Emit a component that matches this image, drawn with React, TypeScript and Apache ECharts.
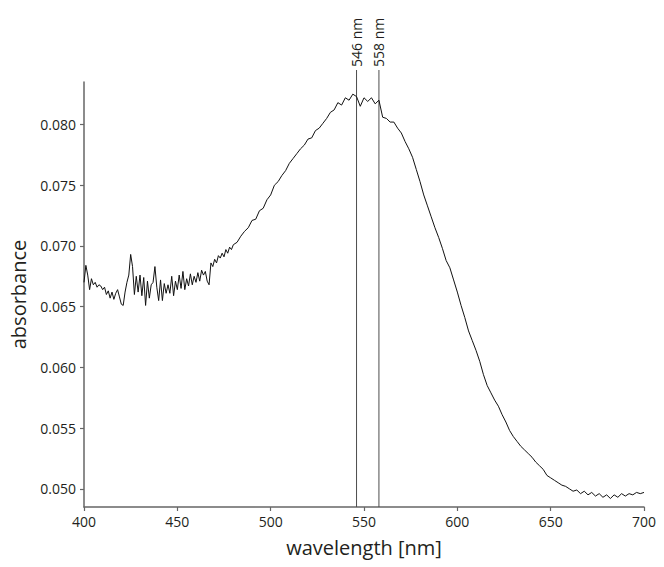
import React, { useEffect, useRef } from "react";
import * as echarts from "echarts";

// Noisy part: 400..480 nm, 1 nm steps
const NOISY_START = 400;
const noisyValues = [
  0.0670, 0.0684, 0.0676, 0.0664, 0.0673, 0.0668, 0.0670, 0.0666, 0.0668, 0.0667,
  0.0664, 0.0666, 0.0660, 0.0663, 0.0657, 0.0662, 0.0656, 0.0661, 0.0664, 0.0658,
  0.0652, 0.0651, 0.0662, 0.0670, 0.0676, 0.0693, 0.0683, 0.0660, 0.0675, 0.0662,
  0.0676, 0.0659, 0.0674, 0.0651, 0.0671, 0.0657, 0.0668, 0.0670, 0.0683, 0.0666,
  0.0655, 0.0672, 0.0655, 0.0669, 0.0661, 0.0668, 0.0661, 0.0675, 0.0659, 0.0671,
  0.0664, 0.0676, 0.0665, 0.0679, 0.0664, 0.0673, 0.0667, 0.0677, 0.0668, 0.0675,
  0.0670, 0.0678, 0.0671, 0.0680, 0.0676, 0.0679, 0.0671, 0.0668, 0.0686, 0.0683,
  0.0689, 0.0686, 0.0692, 0.0690, 0.0694, 0.0691, 0.0697, 0.0694, 0.0699, 0.0697,
  0.0701,
];

// Smooth part: 482..700 nm, 2 nm steps
const SMOOTH_START = 482;
const smoothValues = [
  0.0703, 0.0708, 0.0712, 0.0715, 0.0721, 0.0722, 0.0729, 0.0731, 0.0738, 0.0742,
  0.0750, 0.0753, 0.0758, 0.0762, 0.0768, 0.0772, 0.0776, 0.0780, 0.0783, 0.0788,
  0.0789, 0.0795, 0.0797, 0.0801, 0.0805, 0.0810, 0.0812, 0.0818, 0.0816, 0.0822,
  0.0820, 0.0825, 0.0823, 0.0815, 0.0822, 0.0819, 0.0822, 0.0817, 0.0820, 0.0806,
  0.0805, 0.0802, 0.0802, 0.0797, 0.0793, 0.0786, 0.0780, 0.0773, 0.0763, 0.0753,
  0.0742, 0.0733, 0.0724, 0.0715, 0.0707, 0.0698, 0.0688, 0.0682, 0.0672, 0.0662,
  0.0651, 0.0641, 0.0630, 0.0622, 0.0614, 0.0605, 0.0594, 0.0585, 0.0579, 0.0573,
  0.0568, 0.0561, 0.0555, 0.0548, 0.0543, 0.0539, 0.0535, 0.0532, 0.0529, 0.0526,
  0.0522, 0.0519, 0.0516, 0.0511, 0.0509, 0.0507, 0.0505, 0.0503, 0.0502, 0.0500,
  0.0498, 0.0499, 0.0496, 0.0498, 0.0495, 0.0497, 0.0494, 0.0496, 0.0493, 0.0495,
  0.0492, 0.0495, 0.0493, 0.0496, 0.0494, 0.0496, 0.0495, 0.0497, 0.0496, 0.0497,
];

const markerWavelengths = [546, 558];
const yTicks = [0.05, 0.055, 0.06, 0.065, 0.07, 0.075, 0.08];
const X_MIN = 400;
const X_MAX = 700;
const Y_MIN = 0.0485;
const Y_MAX = 0.0835;

const FONT = "'Open Sans', 'Noto Sans', sans-serif";
const TEXT = "#231f20";

export default function App() {
  const ref = useRef<HTMLDivElement>(null);

  useEffect(() => {
    document.body.style.margin = "0";
    if (!ref.current) return;
    const chart = echarts.init(ref.current, undefined, { renderer: "svg" });

    const data: number[][] = [];
    noisyValues.forEach((v, i) => data.push([NOISY_START + i, v]));
    smoothValues.forEach((v, i) => data.push([SMOOTH_START + 2 * i, v]));

    chart.setOption({
      animation: false,
      backgroundColor: "#ffffff",
      grid: { left: 82, right: 20, top: 82, bottom: 60 },
      xAxis: {
        type: "value",
        min: X_MIN,
        max: X_MAX,
        interval: 50,
        name: "wavelength [nm]",
        nameLocation: "middle",
        nameGap: 30,
        nameTextStyle: { fontSize: 20, color: TEXT, fontFamily: FONT },
        axisLine: { show: true, onZero: false, lineStyle: { color: "#666", width: 1.5 } },
        axisTick: { show: true, length: 4, lineStyle: { color: "#666", width: 1.2 } },
        axisLabel: { fontSize: 14, color: TEXT, fontFamily: FONT, margin: 7 },
        splitLine: { show: false },
      },
      yAxis: {
        type: "value",
        min: Y_MIN,
        max: Y_MAX,
        name: "absorbance",
        nameLocation: "middle",
        nameGap: 56,
        nameRotate: 90,
        nameTextStyle: { fontSize: 20, color: TEXT, fontFamily: FONT },
        axisLine: { show: true, lineStyle: { color: "#666", width: 1.5 } },
        axisTick: { show: true, length: 4, customValues: yTicks, lineStyle: { color: "#666", width: 1.2 } },
        axisLabel: {
          fontSize: 14,
          color: TEXT,
          fontFamily: FONT,
          margin: 8,
          customValues: yTicks,
          formatter: (v: number) => v.toFixed(3),
        },
        splitLine: { show: false },
      },
      series: [
        {
          type: "line",
          data,
          showSymbol: false,
          symbol: "none",
          lineStyle: { color: "#111", width: 1 },
          z: 3,
        },
        {
          type: "custom",
          data: markerWavelengths.map((w) => [w, Y_MIN]),
          clip: false,
          z: 2,
          renderItem: (params: any, api: any) => {
            const x = api.value(0);
            const bottom = api.coord([x, Y_MIN]);
            const top = api.coord([x, Y_MAX]);
            const yTop = top[1] - 12;
            return {
              type: "group",
              children: [
                {
                  type: "line",
                  shape: { x1: bottom[0], y1: bottom[1], x2: bottom[0], y2: yTop },
                  style: { stroke: "#4d4d4d", lineWidth: 1 },
                },
                {
                  type: "text",
                  x: bottom[0],
                  y: yTop - 3,
                  rotation: Math.PI / 2,
                  style: {
                    text: `${x} nm`,
                    fontSize: 14,
                    fontFamily: FONT,
                    fill: TEXT,
                    align: "left",
                    verticalAlign: "middle",
                  },
                },
              ],
            };
          },
        },
      ],
    });

    return () => chart.dispose();
  }, []);

  return <div ref={ref} style={{ width: 664, height: 567 }} />;
}
